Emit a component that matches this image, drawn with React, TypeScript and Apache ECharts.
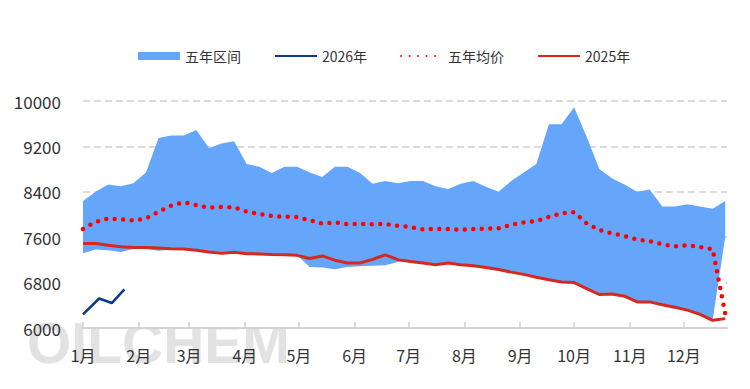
import React, { useEffect, useRef } from 'react';
import * as echarts from 'echarts';

const legendNames = ['五年区间', '2026年', '五年均价', '2025年'];
const yMin = 6000;
const yMax = 10000;
const yInterval = 800;

// weekly points, first at 1 Jan
const rangeUpper = [8240, 8400, 8530, 8500, 8550, 8740, 9350, 9390, 9390, 9490, 9170, 9250, 9290, 8890, 8840, 8730, 8840, 8840, 8740, 8660, 8840, 8840, 8730, 8540, 8590, 8550, 8590, 8590, 8500, 8450, 8540, 8590, 8490, 8400, 8590, 8740, 8890, 9590, 9590, 9890, 9370, 8800, 8640, 8530, 8400, 8440, 8140, 8140, 8180, 8140, 8100, 8240];
const rangeLower = [7315, 7385, 7370, 7340, 7390, 7390, 7360, 7385, 7390, 7370, 7340, 7315, 7335, 7310, 7305, 7295, 7290, 7280, 7075, 7065, 7035, 7075, 7090, 7095, 7105, 7165, 7170, 7145, 7115, 7145, 7115, 7095, 7065, 7030, 6985, 6945, 6895, 6850, 6810, 6800, 6695, 6590, 6600, 6560, 6460, 6460, 6410, 6365, 6315, 6240, 6135, 7600];
const avg5 = [7745, 7870, 7930, 7915, 7895, 7930, 8050, 8155, 8215, 8165, 8120, 8135, 8125, 8050, 8010, 7975, 7960, 7955, 7900, 7840, 7860, 7830, 7835, 7830, 7835, 7800, 7780, 7740, 7745, 7745, 7730, 7745, 7750, 7755, 7820, 7860, 7885, 7960, 8020, 8040, 7845, 7725, 7670, 7620, 7560, 7530, 7475, 7440, 7460, 7425, 7390, 6255];
const y2025 = [7490, 7490, 7460, 7430, 7420, 7420, 7410, 7395, 7390, 7370, 7340, 7315, 7335, 7310, 7305, 7295, 7290, 7280, 7225, 7270, 7195, 7145, 7145, 7210, 7290, 7205, 7170, 7145, 7115, 7145, 7115, 7095, 7065, 7030, 6985, 6945, 6895, 6850, 6810, 6800, 6695, 6590, 6600, 6560, 6460, 6460, 6410, 6365, 6315, 6240, 6135, 6165];
const days2026 = ['01-01', '01-10', '01-17', '01-24'];
const y2026 = [6240, 6520, 6440, 6680];

const REF_YEAR = 2025;
const weekDates = rangeUpper.map((_, i) => new Date(REF_YEAR, 0, 1 + 7 * i).getTime());
const mdToTime = (md: string) => {
  const [m, d] = md.split('-').map(Number);
  return new Date(REF_YEAR, m - 1, d).getTime();
};
const DAY = 86400000;

const FONT = "'Noto Sans CJK SC', 'Noto Sans', sans-serif";
const BLUE = '#66a6fa';
const NAVY = '#0b3a8a';
const RED = '#d7281f';
const DOT = '#ff0000';

export default function App() {
  const ref = useRef<HTMLDivElement>(null);
  useEffect(() => {
    if (!ref.current) return;
    const chart = echarts.init(ref.current, null, { renderer: 'svg' });
    const pair = (arr: number[]) => arr.map((v, i) => [weekDates[i], v]);
    const hideSym = { itemStyle: { opacity: 0 } };
    chart.setOption({
      animation: false,
      backgroundColor: '#fff',
      textStyle: { fontFamily: FONT },
      grid: { left: 83, right: 23, top: 101, bottom: 61 },
      legend: {
        left: 133,
        top: 44,
        itemWidth: 42,
        itemHeight: 8,
        itemGap: 33,
        textStyle: { fontSize: 14, color: '#333', fontFamily: FONT },
        data: [
          { name: legendNames[0], icon: 'rect', itemStyle: { color: BLUE } },
          { name: legendNames[1], ...hideSym },
          { name: legendNames[2], ...hideSym },
          { name: legendNames[3], ...hideSym },
        ],
      },
      graphic: [
        {
          type: 'text',
          left: 27,
          top: 314,
          z: -10,
          silent: true,
          style: {
            text: 'OILCHEM',
            font: 'bold 57px "Liberation Sans", Arial, sans-serif',
            fill: '#e2e2e2',
          },
        },
      ],
      xAxis: {
        type: 'time',
        min: weekDates[0],
        max: new Date(REF_YEAR, 11, 25).getTime(),
        splitNumber: 12,
        minInterval: 28 * DAY,
        maxInterval: 31 * DAY,
        z: 5,
        axisLine: { lineStyle: { color: '#d2d2d2', width: 2 } },
        axisTick: { show: true, inside: true, length: 6, lineStyle: { color: '#d2d2d2', width: 1.5 } },
        splitLine: { show: false },
        axisLabel: {
          fontSize: 16,
          color: '#333',
          margin: 19,
          showMaxLabel: false,
          formatter: (v: number) => `${new Date(v).getMonth() + 1}月`,
        },
      },
      yAxis: {
        type: 'value',
        min: yMin,
        max: yMax,
        interval: yInterval,
        axisLine: { show: false },
        axisTick: { show: false },
        axisLabel: { fontSize: 17, color: '#333', margin: 22, formatter: (v: number) => String(v) },
        splitLine: { lineStyle: { color: '#cfcfcf', width: 1.5, type: [7, 4] } },
      },
      series: [
        {
          name: 'lower',
          type: 'line',
          stack: 'band',
          data: pair(rangeLower),
          symbol: 'none',
          lineStyle: { width: 0, opacity: 0 },
          areaStyle: { color: '#fff', opacity: 1 },
          silent: true,
        },
        {
          name: legendNames[0],
          type: 'line',
          stack: 'band',
          data: pair(rangeUpper.map((v, i) => v - rangeLower[i])),
          symbol: 'none',
          color: BLUE,
          lineStyle: { width: 0, opacity: 0 },
          areaStyle: { color: BLUE, opacity: 1 },
        },
        {
          name: legendNames[2],
          type: 'line',
          data: pair(avg5),
          symbol: 'none',
          color: DOT,
          lineStyle: { color: DOT, width: 4.5, type: [0, 8.5], cap: 'round' },
        },
        {
          name: legendNames[3],
          type: 'line',
          data: pair(y2025),
          symbol: 'none',
          color: RED,
          lineStyle: { color: RED, width: 3 },
        },
        {
          name: legendNames[1],
          type: 'line',
          data: days2026.map((d, i) => [mdToTime(d), y2026[i]]),
          symbol: 'none',
          color: NAVY,
          lineStyle: { color: NAVY, width: 2.5 },
        },
      ],
    });
    return () => chart.dispose();
  }, []);
  return (
    <div
      ref={ref}
      style={{ position: 'absolute', left: 0, top: 0, width: 750, height: 389, background: '#fff' }}
    />
  );
}
